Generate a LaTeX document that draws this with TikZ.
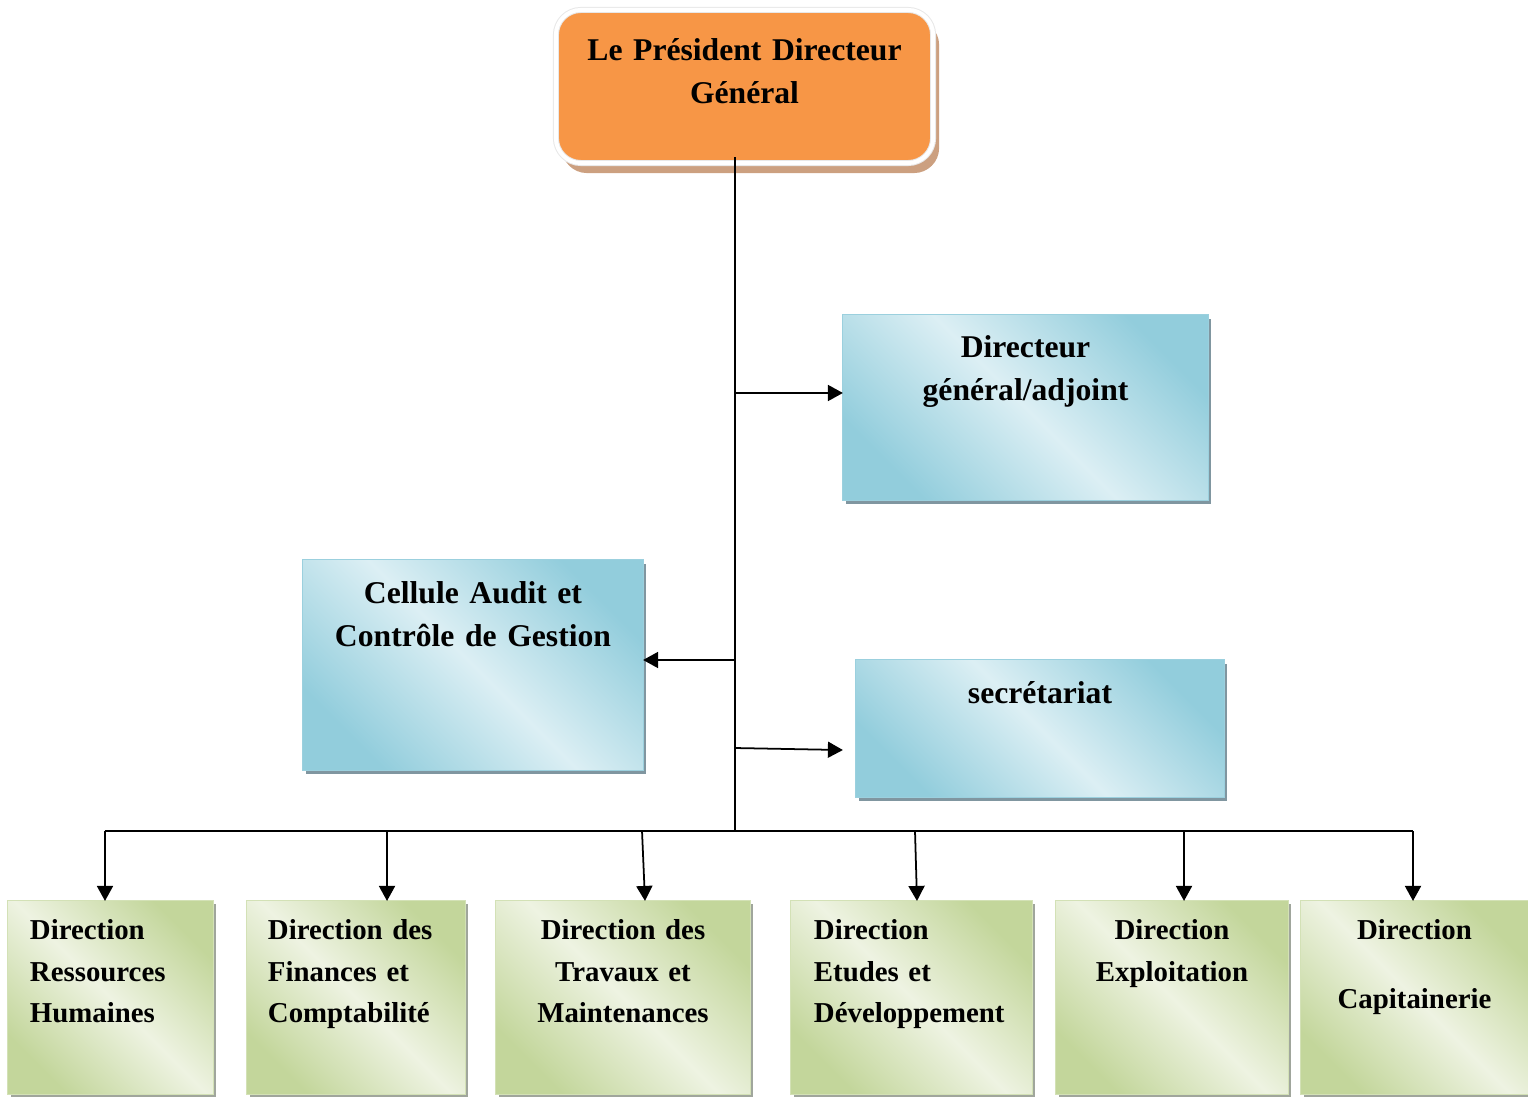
\documentclass[tikz,border=0pt]{standalone}
\usepackage{fontspec}
\setmainfont{Liberation Serif}
\usetikzlibrary{arrows.meta,shadows}

\definecolor{pdgorange}{HTML}{F79646}
\definecolor{pdgshadow}{RGB}{204,160,128}
\definecolor{bluedark}{HTML}{92CDDC}
\definecolor{bluelight}{HTML}{DCEFF4}
\definecolor{blueline}{HTML}{9BD0DE}
\definecolor{blueshadow}{RGB}{128,150,160}
\definecolor{greendark}{HTML}{C3D69B}
\definecolor{greenlight}{HTML}{EEF3E2}
\definecolor{greenline}{HTML}{D3E1B6}
\definecolor{greenshadow}{RGB}{160,166,156}

\begin{document}
\begin{tikzpicture}[x=0.01cm, y=-0.01cm,
  every node/.style={inner sep=0pt, outer sep=0pt},
  topbox/.style={rounded corners=0.25cm, fill=pdgorange, draw=gray!18,
    double=white, double distance=0.04cm, line width=0.01cm,
    drop shadow={fill=pdgshadow, opacity=1, shadow xshift=0.06cm, shadow yshift=-0.10cm},
    align=center, font=\fontsize{9}{12.2}\selectfont\bfseries},
  bluebox/.style={draw=blueline, line width=0.01cm,
    top color=bluedark, bottom color=bluedark, middle color=bluelight, shading angle=-45,
    drop shadow={fill=blueshadow, opacity=1, shadow xshift=0.03cm, shadow yshift=-0.04cm},
    align=center, font=\fontsize{9}{12}\selectfont\bfseries},
  greenbox/.style={draw=greenline, line width=0.01cm,
    top color=greendark, bottom color=greendark, middle color=greenlight, shading angle=-45,
    drop shadow={fill=greenshadow, opacity=1, shadow xshift=0.03cm, shadow yshift=-0.03cm},
    text height=0.39cm, text depth=1.54cm, font=\fontsize{8.2}{11.7}\selectfont\bfseries},
  line/.style={line width=0.5pt},
  arr/.style={line width=0.5pt, -{Triangle[length=0.15cm, width=0.16cm]}}]
\useasboundingbox (0,0) rectangle (1528,1097);

% top
\node[topbox, text width=3.77cm, text height=0.51cm, text depth=1.02cm] (pdg) at (744.5,86.5) {Le Président Directeur\\Général};

% staff
\node[bluebox, text width=3.65cm, text height=0.43cm, text depth=1.42cm] (dga) at (1025.5,407.5) {Directeur\\général/adjoint};
\node[bluebox, text width=3.40cm, text height=0.44cm, text depth=1.66cm] (audit) at (473,665) {Cellule Audit et\\Contrôle de Gestion};
\node[bluebox, text width=3.68cm, text height=0.44cm, text depth=0.93cm] (sec) at (1040,728.5) {secrétariat};

% directions
\node[greenbox, inner xsep=0.22cm, text width=1.61cm, align=left] (d1) at (110.5,997.5) {Direction\\Ressources\\Humaines};
\node[greenbox, inner xsep=0.21cm, text width=1.76cm, align=left] (d2) at (356,997.5) {Direction des\\Finances et\\Comptabilité};
\node[greenbox, text width=2.54cm, align=center] (d3) at (623,997.5) {Direction des\\Travaux et\\Maintenances};
\node[greenbox, inner xsep=0.23cm, text width=1.95cm, align=left] (d4) at (911.5,997.5) {Direction\\Etudes et\\Développement};
\node[greenbox, text width=2.32cm, align=center] (d5) at (1172,997.5) {Direction\\Exploitation};
\node[greenbox, text width=2.27cm, align=center] (d6) at (1414.5,997.5) {Direction\\[7.9pt]Capitainerie};

% connectors
\coordinate (bus) at (735,831);
\coordinate (dgain) at ([yshift=0.145cm]dga.west);
\coordinate (auditin) at ([yshift=0.05cm]audit.east);
\coordinate (secin) at ([xshift=-0.13cm,yshift=-0.215cm]sec.west);
\draw[line] ([yshift=0.06cm]bus |- pdg.south) -- (bus);
\draw[arr] (bus |- dgain) -- (dgain);
\draw[arr] (bus |- auditin) -- (auditin);
\draw[arr] ([yshift=0.02cm]bus |- secin) -- (secin);
\draw[line] ([xshift=-0.055cm]d1.north |- bus) -- ([xshift=-0.015cm]d6.north |- bus);
\foreach \n/\a/\b in {d1/-0.055/-0.055, d2/0.31/0.31, d3/0.19/0.22, d4/0.035/0.055, d5/0.12/0.12, d6/-0.015/-0.015}
  \draw[arr] ([xshift=\a cm]\n.north |- bus) -- ([xshift=\b cm]\n.north);
\end{tikzpicture}
\end{document}
